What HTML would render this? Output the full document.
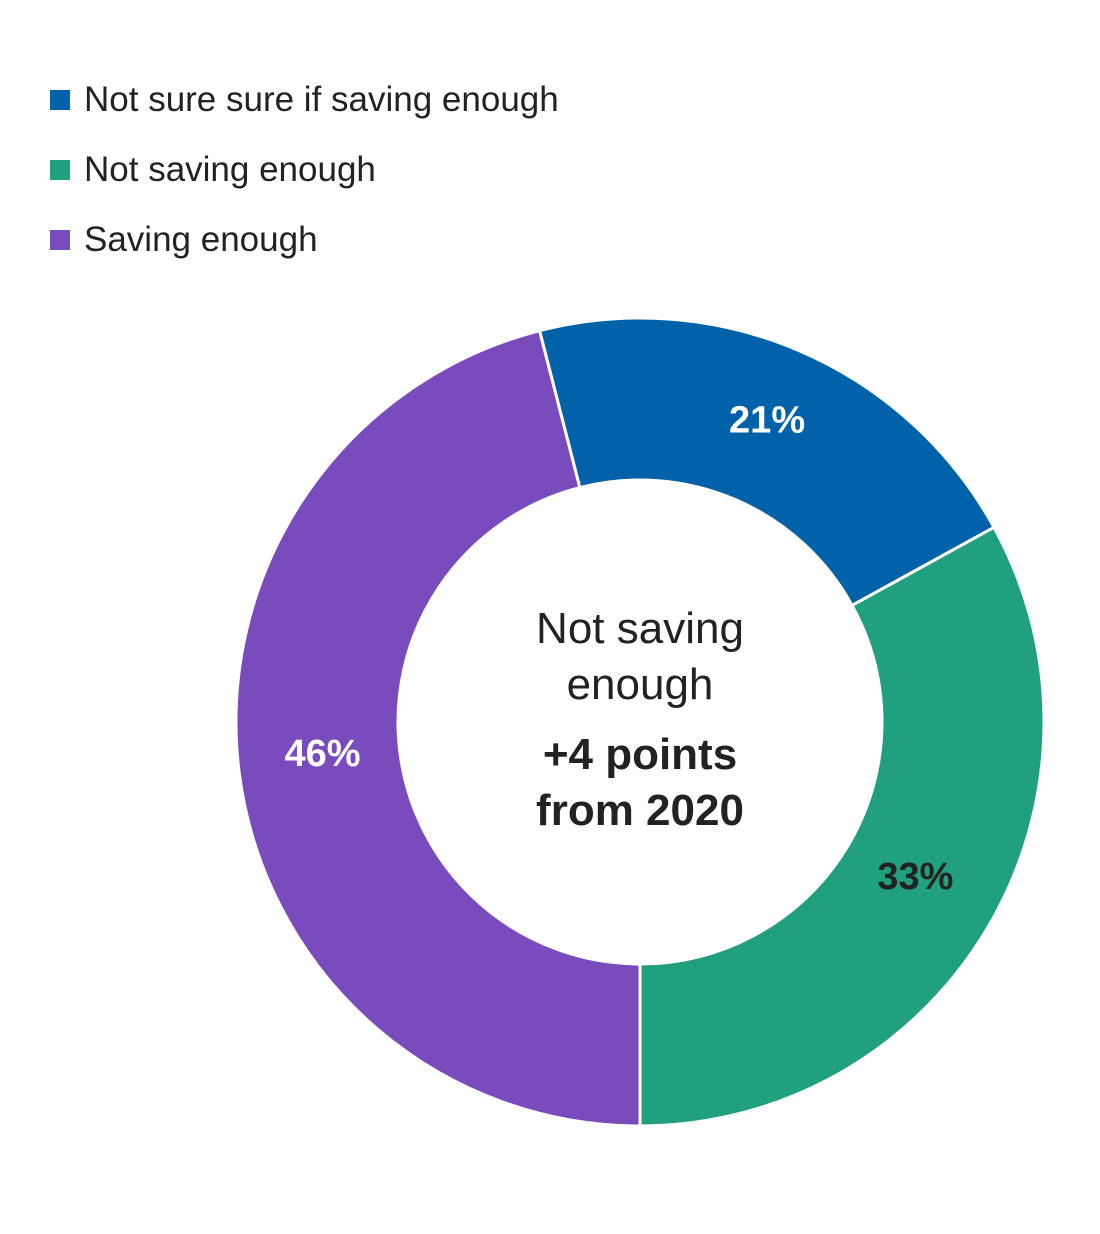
<!DOCTYPE html>
<html><head><meta charset="utf-8"><style>
body{margin:0;background:#fff;width:1100px;height:1234px;overflow:hidden;font-family:"Liberation Sans",sans-serif;}
.leg{position:absolute;left:50px;display:flex;align-items:center;font-size:35px;color:#222;}
.sw{width:20px;height:20px;margin-right:14px;}
</style></head><body>
<div class="leg" style="top:80px"><div class="sw" style="background:#0262a9"></div>Not sure sure if saving enough</div>
<div class="leg" style="top:150px"><div class="sw" style="background:#21a07f"></div>Not saving enough</div>
<div class="leg" style="top:220px"><div class="sw" style="background:#7a4bbd"></div>Saving enough</div>
<svg id="chart" width="1100" height="1234" style="position:absolute;left:0;top:0"></svg>
<script>
const categories=["Not sure sure if saving enough","Not saving enough","Saving enough"];
const values=[21,33,46];
const colors=["#0262a9","#21a07f","#7a4bbd"];
const labelColors=["#fff","#222","#fff"];
const svg=document.getElementById('chart');
const NS="http://www.w3.org/2000/svg";
const cx=640,cy=722,R=404,r=242;
const total=values.reduce((a,b)=>a+b,0);
let start=180-360*(values[0]+values[1])/total;
function pt(rad,deg){const a=deg*Math.PI/180;return [cx+rad*Math.sin(a),cy-rad*Math.cos(a)];}
values.forEach((v,i)=>{
  const end=start+360*v/total;
  const large=(end-start)>180?1:0;
  const [x1,y1]=pt(R,start),[x2,y2]=pt(R,end),[x3,y3]=pt(r,end),[x4,y4]=pt(r,start);
  const p=document.createElementNS(NS,'path');
  p.setAttribute('d',`M${x1},${y1}A${R},${R} 0 ${large} 1 ${x2},${y2}L${x3},${y3}A${r},${r} 0 ${large} 0 ${x4},${y4}Z`);
  p.setAttribute('fill',colors[i]);p.setAttribute('stroke','#fff');p.setAttribute('stroke-width','3');
  
  
  svg.appendChild(p);
  const mid=(start+end)/2;const [lx,ly]=pt(320,mid);
  const t=document.createElementNS(NS,'text');
  t.setAttribute('x',lx);t.setAttribute('y',ly+4);t.setAttribute('text-anchor','middle');
  t.setAttribute('font-size','38');t.setAttribute('font-weight','bold');t.setAttribute('fill',labelColors[i]);
  t.setAttribute('font-family','Liberation Sans, sans-serif');
  t.textContent=v+'%';
  
  
  svg.appendChild(t);
  start=end;
});
const lines=[["Not saving",643,"normal"],["enough",699,"normal"],["+4 points",769,"bold"],["from 2020",825,"bold"]];
lines.forEach((l,i)=>{
  const t=document.createElementNS(NS,'text');
  t.setAttribute('x',640);t.setAttribute('y',l[1]);t.setAttribute('text-anchor','middle');
  t.setAttribute('font-size','44');t.setAttribute('font-weight',l[2]);t.setAttribute('fill','#222');
  t.setAttribute('font-family','Liberation Sans, sans-serif');
  t.textContent=l[0];
  
  
  svg.appendChild(t);
});
</script>
</body></html>
